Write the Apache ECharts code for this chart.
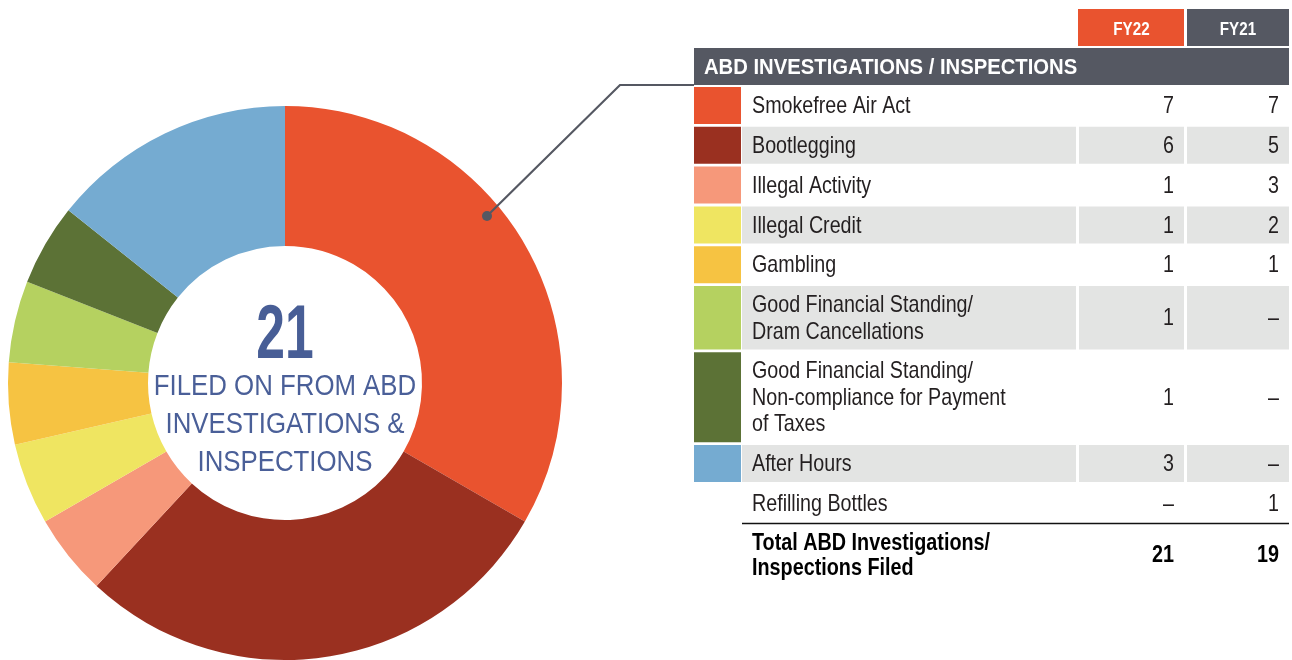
<!DOCTYPE html>
<html><head><meta charset="utf-8">
<script src="https://cdn.jsdelivr.net/npm/echarts@6/dist/echarts.min.js"></script>
<style>html,body{margin:0;padding:0;background:#fff}#c{width:1292px;height:660px}</style>
</head><body><div id="c"></div>
<script>
// ---- data ----
const categories = ['Smokefree Air Act', 'Bootlegging', 'Illegal Activity', 'Illegal Credit', 'Gambling',
  'Good Financial Standing/\nDram Cancellations',
  'Good Financial Standing/\nNon-compliance for Payment\nof Taxes',
  'After Hours', 'Refilling Bottles'];
const fy22 = [7, 6, 1, 1, 1, 1, 1, 3, null];
const fy21 = [7, 5, 3, 2, 1, null, null, null, 1];
const palette = ['#E9532F', '#9A3020', '#F6987A', '#EFE561', '#F6C342', '#B5D160', '#5C7236', '#75ABD1', null];
const columns = ['FY22', 'FY21'];
const sectionTitle = 'ABD INVESTIGATIONS / INSPECTIONS';
const totalLabel = 'Total ABD Investigations/\nInspections Filed';
const totals = [21, 19];
const centerNumber = '21';
const centerText = 'FILED ON FROM ABD\nINVESTIGATIONS &\nINSPECTIONS';

// ---- layout ----
const FONT = "'Liberation Sans', Arial, sans-serif";
const chart = echarts.init(document.getElementById('c'), null, {renderer: 'canvas'});
const G = [];
const X0 = 694, SW_R = 741, LBL_L = 742, LBL_R = 1076, C1_L = 1079, C1_R = 1184, C2_L = 1187, C2_R = 1289;
const GRAY = '#E3E4E3', DARK = '#555862', TXT = '#231F20';

function txt(x, y, text, o) {
  G.push({
    type: 'text', x: x, y: y, scaleX: o.sx || 1, z: o.z || 5,
    style: {text: text, fill: o.fill || TXT, font: `${o.bold ? 'bold ' : ''}${o.size}px ${FONT}`,
      lineHeight: o.lh, align: o.align || 'left', verticalAlign: 'middle'}
  });
}

// column headers
G.push({type: 'rect', shape: {x: C1_L - 1, y: 9, width: C1_R - C1_L + 1, height: 37}, style: {fill: palette[0]}});
G.push({type: 'rect', shape: {x: C2_L, y: 9, width: C2_R - C2_L, height: 37}, style: {fill: DARK}});
[[C1_L, C1_R], [C2_L, C2_R]].forEach((c, i) => {
  txt((c[0] + c[1]) / 2, 30, columns[i], {fill: '#fff', size: 19, bold: true, sx: 0.8, align: 'center'});
});
// section header
G.push({type: 'rect', shape: {x: X0, y: 48, width: C2_R - X0, height: 37}, style: {fill: DARK}});
txt(704, 68, sectionTitle, {fill: '#fff', size: 22.5, bold: true, sx: 0.9});

// rows
let y = 87;
categories.forEach((cat, i) => {
  const n = cat.split('\n').length;
  const h = 37 + (n - 1) * 26.5;
  const cy = y + h / 2;
  const bg = i % 2 === 1 ? GRAY : null;
  if (bg) {
    G.push({type: 'rect', shape: {x: LBL_L, y: y, width: LBL_R - LBL_L, height: h}, style: {fill: bg}});
    G.push({type: 'rect', shape: {x: C1_L, y: y, width: C1_R - C1_L, height: h}, style: {fill: bg}});
    G.push({type: 'rect', shape: {x: C2_L, y: y, width: C2_R - C2_L, height: h}, style: {fill: bg}});
  }
  if (palette[i]) {
    G.push({type: 'rect', shape: {x: X0, y: y, width: SW_R - X0, height: h}, style: {fill: palette[i]}});
  }
  txt(752, cy + 1, cat, {size: 24, sx: 0.82, lh: 26.5});
  txt(1174, cy + 1, fy22[i] == null ? '–' : String(fy22[i]), {size: 24, sx: 0.82, align: 'right'});
  txt(1279, cy + 1, fy21[i] == null ? '–' : String(fy21[i]), {size: 24, sx: 0.82, align: 'right'});
  y += h + 2.8;
});
// total
const lineY = Math.round(y - 2.8) + 1.5;
G.push({type: 'line', shape: {x1: LBL_L, y1: lineY, x2: C2_R, y2: lineY}, style: {stroke: '#111', lineWidth: 1.5}});
txt(752, 556, totalLabel, {fill: '#000', size: 23, bold: true, sx: 0.86, lh: 25});
txt(1174, 556, String(totals[0]), {fill: '#000', size: 23, bold: true, sx: 0.86, align: 'right'});
txt(1279, 556, String(totals[1]), {fill: '#000', size: 23, bold: true, sx: 0.86, align: 'right'});

// callout
G.push({type: 'polyline', shape: {points: [[487, 216], [620, 85], [694, 85]]}, style: {stroke: DARK, lineWidth: 2.2, fill: null}, z: 10});
G.push({type: 'circle', shape: {cx: 487, cy: 216, r: 5}, style: {fill: DARK}, z: 10});

// center text
txt(285, 337, centerNumber, {fill: '#485E96', size: 76, bold: true, sx: 0.68, align: 'center', z: 10});
txt(285, 425, centerText, {fill: '#4A5F98', size: 30, sx: 0.86, lh: 38, align: 'center', z: 10});

const pieData = categories.map((c, i) => ({name: c, value: fy22[i], itemStyle: {color: palette[i]}}))
  .filter(d => d.value != null);

chart.setOption({
  animation: false,
  series: [{
    type: 'pie',
    center: [285, 383],
    radius: [137, 277],
    startAngle: 90,
    clockwise: true,
    silent: true,
    label: {show: false},
    labelLine: {show: false},
    itemStyle: {borderWidth: 0},
    data: pieData
  }],
  graphic: {elements: G}
});
</script></body></html>
